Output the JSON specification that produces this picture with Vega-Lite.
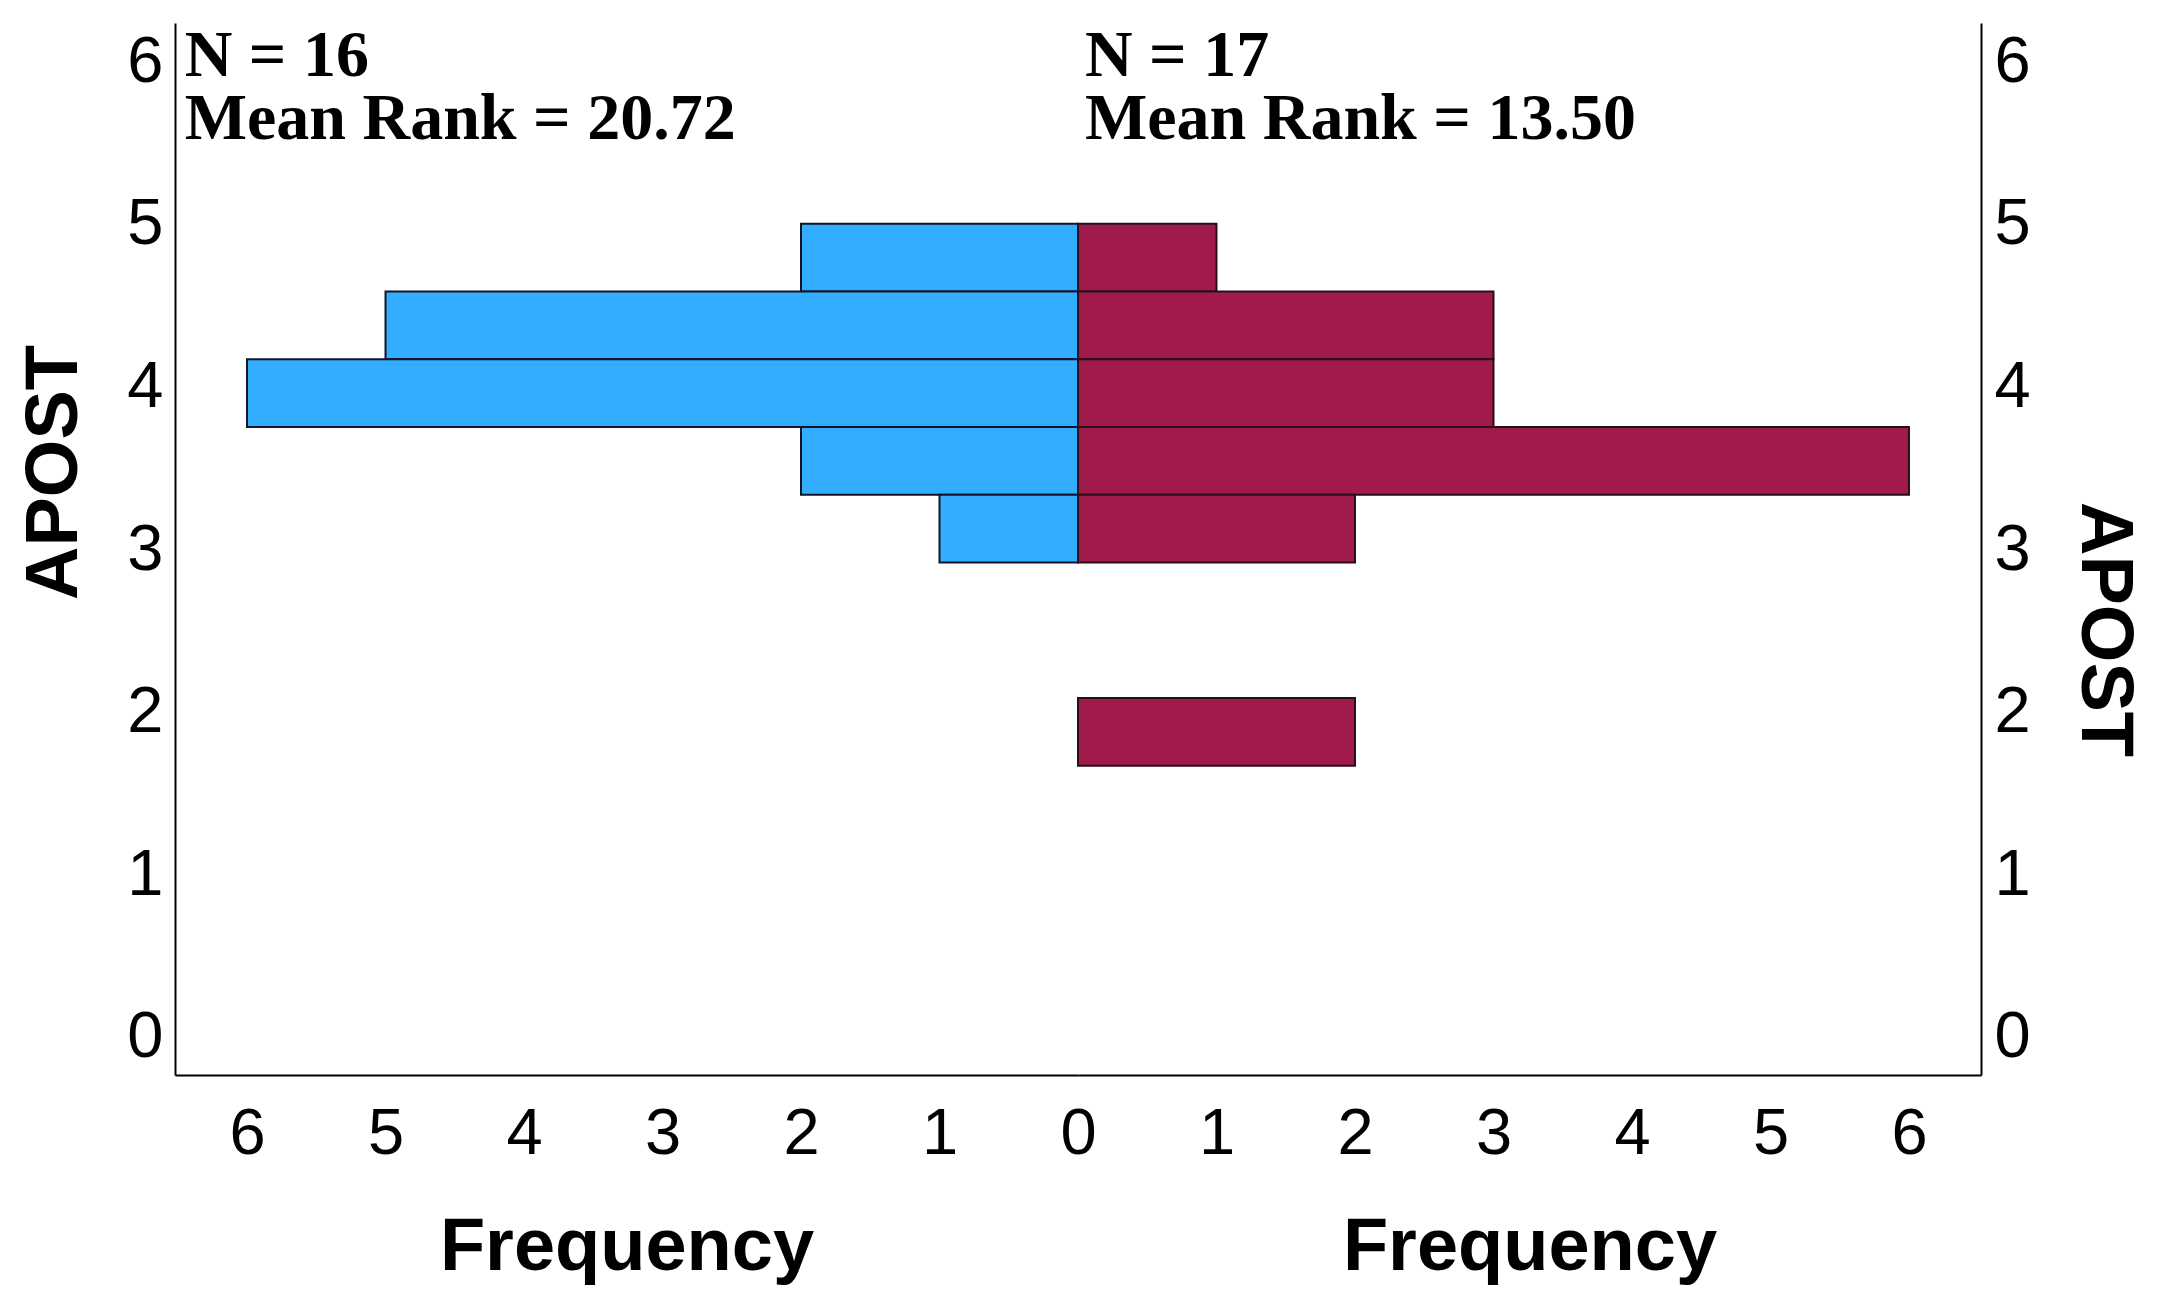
{
  "$schema": "https://vega.github.io/schema/vega-lite/v6.json",
  "background": "white",
  "padding": {"left": 17, "top": 22, "right": 5, "bottom": 5},
  "spacing": 0,
  "bounds": "flush",
  "config": {
    "view": {"stroke": null},
    "axis": {
      "labelFont": "Liberation Sans",
      "titleFont": "Liberation Sans",
      "labelFontSize": 65,
      "titleFontSize": 74,
      "titleFontWeight": "bold",
      "format": "d",
      "grid": false,
      "ticks": false,
      "domainColor": "black",
      "domainWidth": 2,
      "labelColor": "black",
      "titleColor": "black"
    }
  },
  "datasets": {
    "bins": [
      {"group": "Group 1", "bin_start": 4.5833, "bin_end": 5.0, "count": 2},
      {"group": "Group 1", "bin_start": 4.1667, "bin_end": 4.5833, "count": 5},
      {"group": "Group 1", "bin_start": 3.75, "bin_end": 4.1667, "count": 6},
      {"group": "Group 1", "bin_start": 3.3333, "bin_end": 3.75, "count": 2},
      {"group": "Group 1", "bin_start": 2.9167, "bin_end": 3.3333, "count": 1},
      {"group": "Group 2", "bin_start": 4.5833, "bin_end": 5.0, "count": 1},
      {"group": "Group 2", "bin_start": 4.1667, "bin_end": 4.5833, "count": 3},
      {"group": "Group 2", "bin_start": 3.75, "bin_end": 4.1667, "count": 3},
      {"group": "Group 2", "bin_start": 3.3333, "bin_end": 3.75, "count": 6},
      {"group": "Group 2", "bin_start": 2.9167, "bin_end": 3.3333, "count": 2},
      {"group": "Group 2", "bin_start": 1.6667, "bin_end": 2.0833, "count": 2}
    ],
    "notes": [
      {"group": "Group 1", "label": "N = 16\nMean Rank = 20.72"},
      {"group": "Group 2", "label": "N = 17\nMean Rank = 13.50"}
    ]
  },
  "hconcat": [
    {
      "width": 903,
      "height": 1052,
      "layer": [
        {
          "data": {"name": "bins"},
          "transform": [{"filter": "datum.group === 'Group 1'"}],
          "mark": {"type": "rect", "fill": "#33ADFF", "stroke": "#141428", "strokeWidth": 2},
          "encoding": {
            "x": {"field": "count", "type": "quantitative",
              "scale": {"domain": [0, 6.52], "reverse": true, "nice": false, "zero": false},
              "axis": {"values": [1, 2, 3, 4, 5, 6], "title": "Frequency", "labelPadding": 27, "titlePadding": 45, "labelFlush": false}},
            "x2": {"datum": 0},
            "y": {"field": "bin_start", "type": "quantitative",
              "scale": {"domain": [-0.234, 6.234], "nice": false, "zero": false},
              "axis": {"values": [0, 1, 2, 3, 4, 5, 6], "title": "APOST", "orient": "left", "labelPadding": 12, "titlePadding": 34, "titleY": 449, "labelFlush": false}},
            "y2": {"field": "bin_end"}
          }
        },
        {
          "data": {"name": "notes"},
          "transform": [{"filter": "datum.group === 'Group 1'"}],
          "mark": {"type": "text", "font": "Liberation Serif", "fontWeight": "bold", "fontSize": 66, "align": "left", "baseline": "alphabetic", "lineBreak": "\n", "lineHeight": 63, "color": "black"},
          "encoding": {
            "x": {"datum": 6.45},
            "y": {"datum": 5.91},
            "text": {"field": "label", "type": "nominal"}
          }
        }
      ]
    },
    {
      "width": 903,
      "height": 1052,
      "layer": [
        {
          "data": {"name": "bins"},
          "transform": [{"filter": "datum.group === 'Group 2'"}],
          "mark": {"type": "rect", "fill": "#A01A4B", "stroke": "#28101a", "strokeWidth": 2},
          "encoding": {
            "x": {"field": "count", "type": "quantitative",
              "scale": {"domain": [0, 6.52], "nice": false, "zero": false},
              "axis": {"values": [0, 1, 2, 3, 4, 5, 6], "title": "Frequency", "labelPadding": 27, "titlePadding": 45, "labelFlush": false}},
            "x2": {"datum": 0},
            "y": {"field": "bin_start", "type": "quantitative",
              "scale": {"domain": [-0.234, 6.234], "nice": false, "zero": false},
              "axis": {"values": [0, 1, 2, 3, 4, 5, 6], "title": "APOST", "orient": "right", "labelPadding": 13, "titlePadding": 35, "titleY": 606, "labelFlush": false}},
            "y2": {"field": "bin_end"}
          }
        },
        {
          "data": {"name": "notes"},
          "transform": [{"filter": "datum.group === 'Group 2'"}],
          "mark": {"type": "text", "font": "Liberation Serif", "fontWeight": "bold", "fontSize": 66, "align": "left", "baseline": "alphabetic", "lineBreak": "\n", "lineHeight": 63, "color": "black"},
          "encoding": {
            "x": {"datum": 0.05},
            "y": {"datum": 5.91},
            "text": {"field": "label", "type": "nominal"}
          }
        },
        {
          "mark": {"type": "rule", "color": "black", "strokeWidth": 1.5},
          "encoding": {"x": {"datum": 0}}
        }
      ]
    }
  ]
}
